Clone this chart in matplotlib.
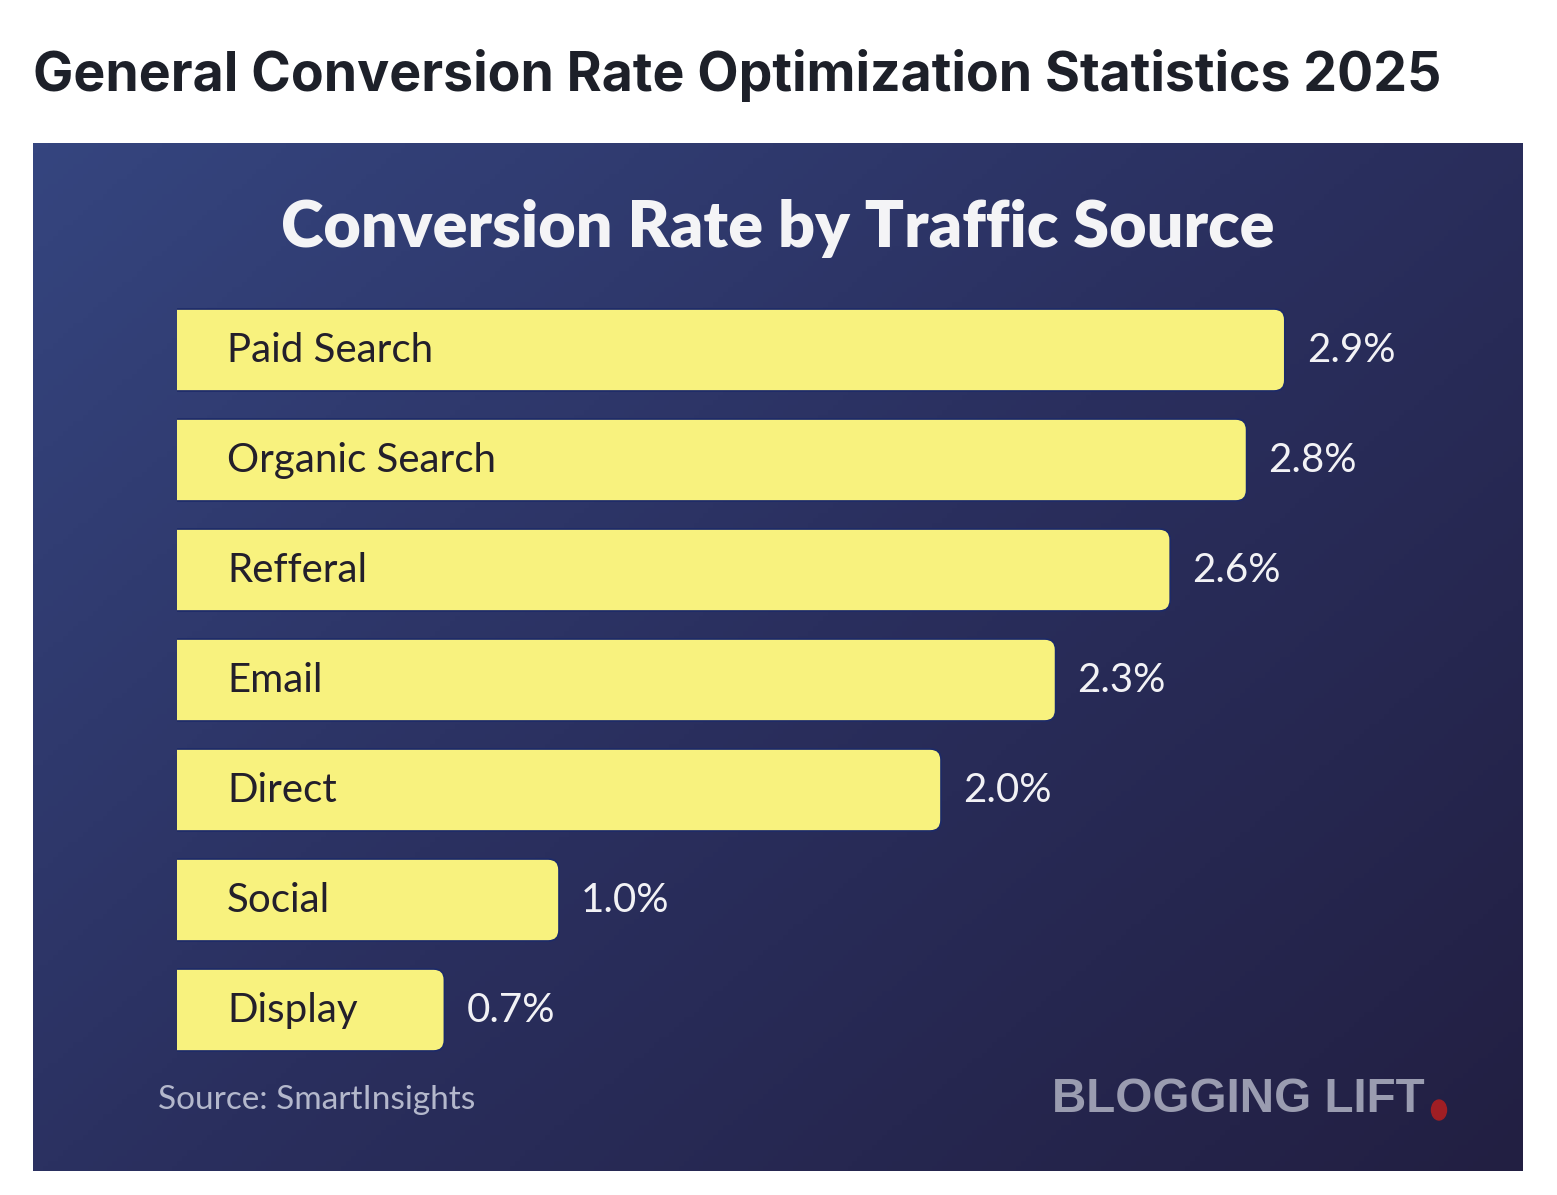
"""Conversion rate by traffic source, redrawn as a horizontal bar chart."""

import numpy as np
import matplotlib.pyplot as plt
from matplotlib.patches import FancyBboxPatch, Ellipse
from matplotlib.colors import LinearSegmentedColormap

sources = ["Paid Search", "Organic Search", "Refferal", "Email", "Direct", "Social", "Display"]
rates = [2.9, 2.8, 2.6, 2.3, 2.0, 1.0, 0.7]
rate_labels = ["2.9%", "2.8%", "2.6%", "2.3%", "2.0%", "1.0%", "0.7%"]

W, H = 1557, 1195
fig = plt.figure(figsize=(W / 100, H / 100), dpi=100)
fig.patch.set_facecolor("white")


def fig_rect(x0, y0, x1, y1):
    # pixel box (top-left origin) -> figure fraction rect
    return [x0 / W, 1 - y1 / H, (x1 - x0) / W, (y1 - y0) / H]


# header
fig.text(33 / W, 1 - 75 / H, "General Conversion Rate Optimization Statistics 2025",
         family="Inter", weight="bold", fontsize=38.6, color="#1d2029", va="center", ha="left")

# gradient panel
bg = fig.add_axes(fig_rect(33, 143, 1523, 1171))
cmap = LinearSegmentedColormap.from_list("panel", ["#35457f", "#2a2f5e", "#221f42"])
gx, gy = np.meshgrid(np.linspace(0, 1, 300), np.linspace(0, 1, 200))
bg.imshow(0.55 * gx + 0.45 * gy, cmap=cmap, aspect="auto", extent=[0, 1, 1, 0])
bg.set_xlim(0, 1)
bg.set_ylim(1, 0)
bg.axis("off")

bg.text(0.5, (229 - 143) / 1028, "Conversion Rate by Traffic Source", family="Lato",
        weight="heavy", fontsize=46.5, color="#f4f4f6", ha="center", va="center")
bg.text((158 - 33) / 1490, (1100 - 143) / 1028, "Source: SmartInsights", family="Lato",
        fontsize=24, color="#b4b8cc", ha="left", va="center")
bg.text((1052 - 33) / 1490, (1100 - 143) / 1028, "BLOGGING LIFT", family="Liberation Sans",
        weight="bold", fontsize=34.3, color="#9a9cb0", ha="left", va="center")
bg.add_patch(Ellipse(((1439 - 33) / 1490, (1110 - 143) / 1028), 15 / 1490, 20 / 1028,
                     color="#a01e24", zorder=3))

# bars
px_per_unit = 382
ax = fig.add_axes(fig_rect(177, 295, 1523, 1065))
ax.set_xlim(0, (1523 - 177) / px_per_unit)
ax.set_ylim(len(sources) - 0.5, -0.5)
ax.axis("off")
ax.patch.set_alpha(0)

y = np.arange(len(sources))
bars = ax.barh(y, rates, height=0.745, color="none")
aspect = px_per_unit / 110
for bar, name, lab in zip(bars, sources, rate_labels):
    x0, y0, w, h = bar.get_x(), bar.get_y(), bar.get_width(), bar.get_height()
    ax.add_patch(FancyBboxPatch((x0 - 0.1, y0), w + 0.1, h,
                                boxstyle="round,pad=0,rounding_size=0.028",
                                mutation_aspect=aspect, facecolor="#f8f27e",
                                edgecolor="#1c2a6a", linewidth=1.2, clip_on=True))
    yc = y0 + h / 2
    ax.text(50 / px_per_unit, yc, name, family="Lato", fontsize=29,
            color="#231f2b", ha="left", va="center")
    ax.text(w + 22 / px_per_unit, yc, lab, family="Lato", fontsize=29,
            color="#f2f2f5", ha="left", va="center")

fig.savefig("out.png", dpi=100)
